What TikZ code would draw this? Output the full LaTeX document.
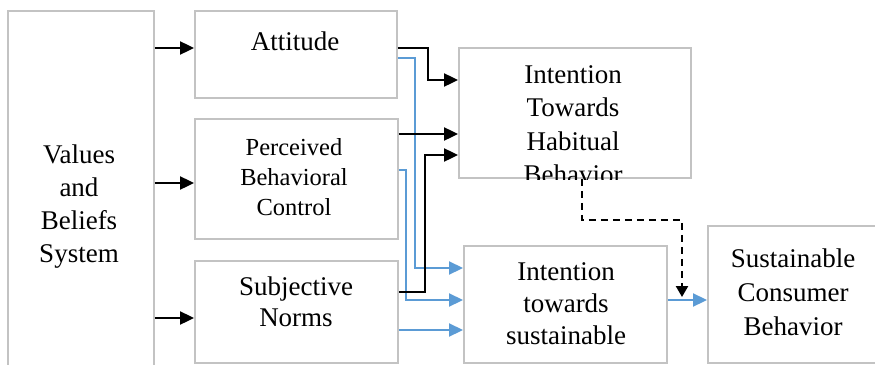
\documentclass[tikz,border=0pt]{standalone}
\usepackage{fontspec}
\setmainfont{Liberation Serif}
\usetikzlibrary{arrows.meta}
\definecolor{boxgray}{RGB}{195,195,195}
\definecolor{linkblue}{RGB}{91,155,213}
\begin{document}
\begin{tikzpicture}[x=1pt,y=-1pt,
  box/.style={draw=boxgray, line width=1.8pt, fill=white, inner sep=0pt, anchor=north west},
  lbl/.style={font=\rmfamily\fontsize{27}{33}\selectfont, align=center, anchor=base, text width=200pt, inner sep=0pt},
  lblsmall/.style={lbl, font=\rmfamily\fontsize{24.5}{30}\selectfont},
  tip/.style={-{Triangle[length=14pt,width=13pt]}},
  blk/.style={draw=black, line width=2.4pt, tip},
  blu/.style={draw=linkblue, line width=2.2pt, tip},
  dsh/.style={draw=black, line width=2.4pt, dash pattern=on 7pt off 5pt,
              -{Triangle[length=11pt,width=12pt]}}
]
\useasboundingbox (0,0) rectangle (875,364);
\clip (0,0) rectangle (875,364);
\fill[white] (0,0) rectangle (875,364);

% boxes
\node[box, minimum width=146pt, minimum height=370pt] (vbs) at (7,10) {};
\node[box, minimum width=202pt, minimum height=87pt]  (att) at (194,10) {};
\node[box, minimum width=203pt, minimum height=120pt] (pbc) at (194,118) {};
\node[box, minimum width=203pt, minimum height=102pt] (sn)  at (194,260) {};
\node[box, minimum width=232pt, minimum height=130pt] (hab) at (458,47) {};
\node[box, minimum width=203pt, minimum height=117pt] (sus) at (463,245) {};
\node[box, minimum width=183pt, minimum height=137pt] (scb) at (707,225) {};

% labels
\node[lbl] (vbsT) at (79,163) {Values\\and\\Beliefs\\System};
\node[lbl] (attT) at (295,50) {Attitude};
\node[lblsmall] (pbcT) at (294,155) {Perceived\\Behavioral\\Control};
\node[lbl, font=\rmfamily\fontsize{27}{31}\selectfont] (snT) at (296,295) {Subjective\\Norms};
\begin{scope}
  \clip ([shift={(1,-1)}]hab.north west) rectangle ([shift={(-1,1)}]hab.south east);
  \node[lbl, font=\rmfamily\fontsize{27}{33.5}\selectfont] (habT) at (573,83) {Intention\\Towards\\Habitual\\Behavior};
\end{scope}
\node[lbl, font=\rmfamily\fontsize{27}{32}\selectfont] (susT) at (566,280) {Intention\\towards\\sustainable};
\node[lbl, font=\rmfamily\fontsize{27}{34}\selectfont] (scbT) at (793,267) {Sustainable\\Consumer\\Behavior};

% values and beliefs feed the three predictors
\draw[blk] (vbs.east |- 0,48)  -- (att.west |- 0,48);
\draw[blk] (vbs.east |- 0,183) -- (pbc.west |- 0,183);
\draw[blk] (vbs.east |- 0,318) -- (sn.west |- 0,318);

% predictors to intention towards sustainable behaviour
\draw[blu] (att.east |- 0,58)  -| (415,268) -- (sus.west |- 0,268);
\draw[blu] (pbc.east |- 0,170) -| (406,300) -- (sus.west |- 0,300);
\draw[blu] (sn.east |- 0,330)  -- (sus.west |- 0,330);

% predictors to intention towards habitual behaviour
\draw[blk] (att.east |- 0,48)  -| (428,80)  -- (hab.west |- 0,80);
\draw[blk] (pbc.east |- 0,134) -- (hab.west |- 0,134);
\draw[blk] (sn.east |- 0,292)  -| (425,155) -- (hab.west |- 0,155);

% intentions to behaviour
\draw[blu] (sus.east |- 0,300) -- (scb.west |- 0,300);
\coordinate (dtip) at (682,297);
\draw[dsh] (hab.south -| 582,0) |- (682,220) -- (dtip);
\end{tikzpicture}
\end{document}
